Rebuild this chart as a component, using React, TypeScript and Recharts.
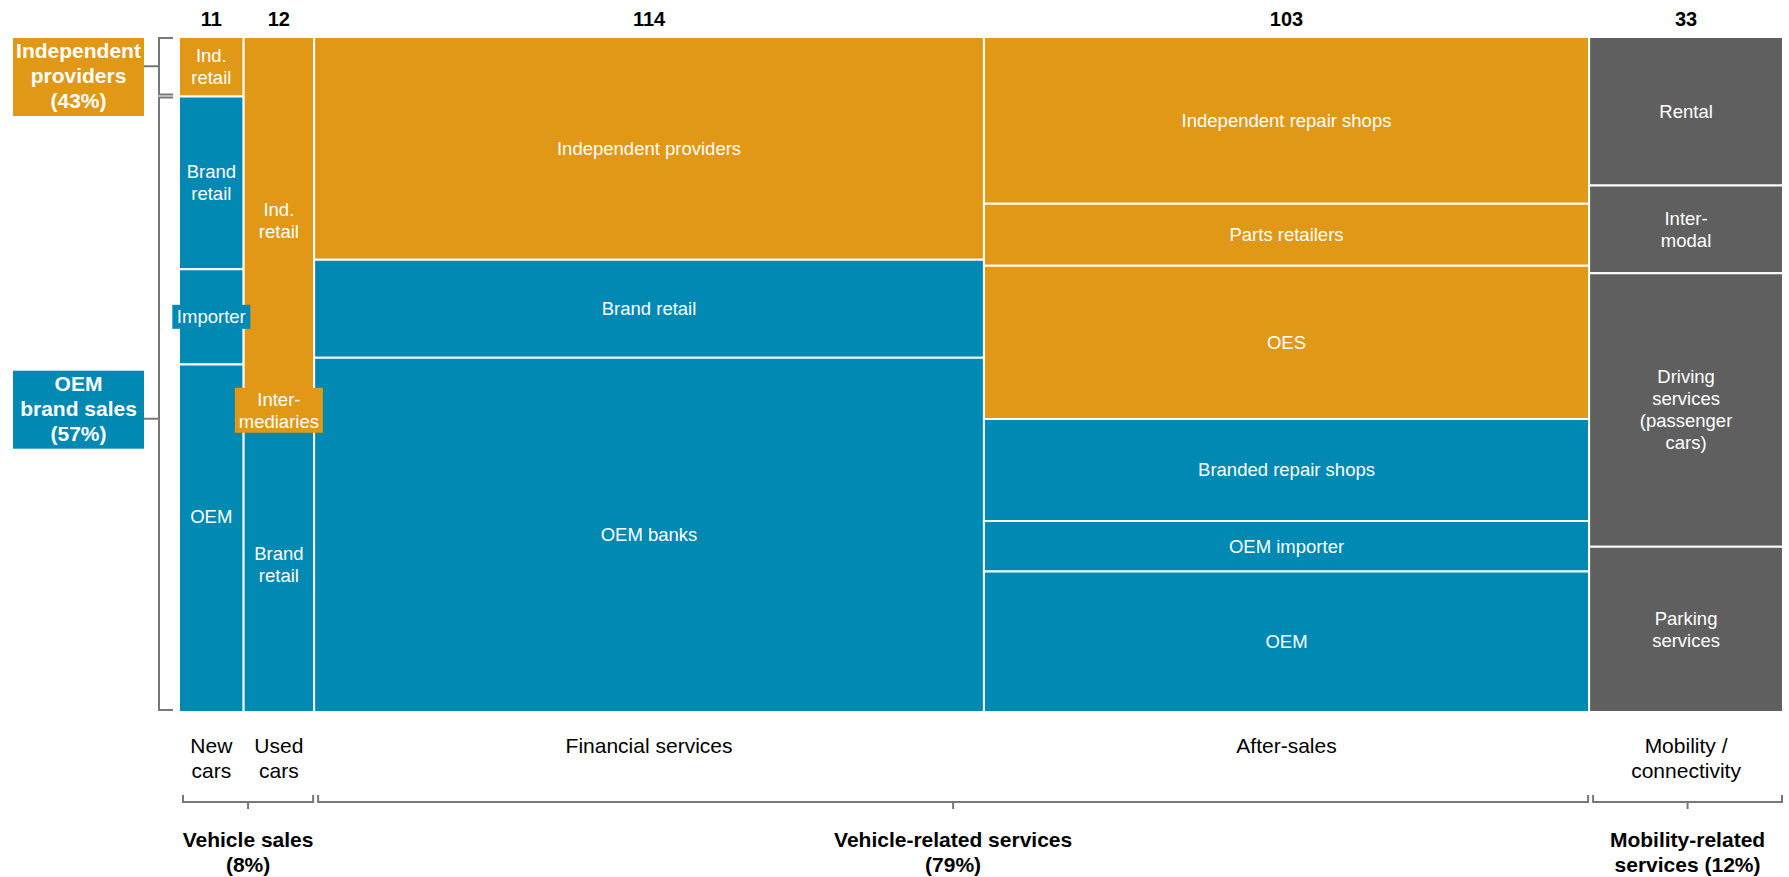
import { ComposedChart, XAxis, YAxis, ReferenceArea } from "recharts";

// market size per column (bn EUR), top to bottom split in % of the column
const columnNames = ["New cars", "Used cars", "Financial services", "After-sales", "Mobility / connectivity"];
const columnTotals = [11, 12, 114, 103, 33];
const columnTickLines = [["New", "cars"], ["Used", "cars"], ["Financial services"], ["After-sales"], ["Mobility /", "connectivity"]];

type Owner = "ind" | "oem" | "mob";
interface Segment {
  lines: string[];
  share: number;
  owner: Owner;
}

const newCarsSegments: Segment[] = [
  { lines: ["Ind.", "retail"], share: 8.8, owner: "ind" },
  { lines: ["Brand", "retail"], share: 25.6, owner: "oem" },
  { lines: ["Importer"], share: 14.1, owner: "oem" },
  { lines: ["OEM"], share: 51.5, owner: "oem" },
];
const usedCarsSegments: Segment[] = [
  { lines: ["Ind.", "retail"], share: 54.3, owner: "ind" },
  { lines: ["Inter-", "mediaries"], share: 2, owner: "ind" },
  { lines: ["Brand", "retail"], share: 43.7, owner: "oem" },
];
const financialSegments: Segment[] = [
  { lines: ["Independent providers"], share: 33, owner: "ind" },
  { lines: ["Brand retail"], share: 14.5, owner: "oem" },
  { lines: ["OEM banks"], share: 52.5, owner: "oem" },
];
const afterSalesSegments: Segment[] = [
  { lines: ["Independent repair shops"], share: 24.7, owner: "ind" },
  { lines: ["Parts retailers"], share: 9.2, owner: "ind" },
  { lines: ["OES"], share: 22.7, owner: "ind" },
  { lines: ["Branded repair shops"], share: 15.1, owner: "oem" },
  { lines: ["OEM importer"], share: 7.5, owner: "oem" },
  { lines: ["OEM"], share: 20.8, owner: "oem" },
];
const mobilitySegments: Segment[] = [
  { lines: ["Rental"], share: 22, owner: "mob" },
  { lines: ["Inter-", "modal"], share: 13, owner: "mob" },
  { lines: ["Driving", "services", "(passenger", "cars)"], share: 40.5, owner: "mob" },
  { lines: ["Parking", "services"], share: 24.5, owner: "mob" },
];
const segmentsByColumn = [newCarsSegments, usedCarsSegments, financialSegments, afterSalesSegments, mobilitySegments];

// bottom groups: label lines and first/last column index
const groupLines = [["Vehicle sales", "(8%)"], ["Vehicle-related services", "(79%)"], ["Mobility-related", "services (12%)"]];
const groupColumns = [[0, 1], [2, 3], [4, 4]];

// left brackets over the "New cars" column: label lines, owner, first/last segment index
const sideLines = [["Independent", "providers", "(43%)"], ["OEM", "brand sales", "(57%)"]];
const sideOwners: Owner[] = ["ind", "oem"];
const sideSegments = [[0, 0], [1, 3]];

const COLORS: Record<Owner, string> = { ind: "#E19816", oem: "#0089B3", mob: "#5F5F5F" };
const FONT = '"Liberation Sans", Arial, Helvetica, sans-serif';
const BRACKET = "#777777";
// labels drawn on a coloured box because they overflow their cell
const boxedLabels: Record<string, { w: number; h: number }> = {
  Importer: { w: 78, h: 24 },
  "Inter-mediaries": { w: 88, h: 45 },
};
const labelShift: Record<string, number> = { "0-3": -22 };
// connector / box offsets of the left brackets (px from bracket middle)
const sideConnectorShift = [0, 15];
const sideBoxShift = [0, 6];

const TOTAL = columnTotals.reduce((a, b) => a + b, 0);
const columnStarts = columnTotals.map((_, i) => columnTotals.slice(0, i).reduce((a, b) => a + b, 0));
const columnCenters = columnTotals.map((t, i) => columnStarts[i] + t / 2);

interface Cell {
  key: string;
  x1: number;
  x2: number;
  y1: number;
  y2: number;
  seg: Segment;
}

const cells: Cell[] = [];
segmentsByColumn.forEach((segs, ci) => {
  const sum = segs.reduce((a, s) => a + s.share, 0);
  let top = 100;
  segs.forEach((seg, si) => {
    const h = (seg.share / sum) * 100;
    cells.push({
      key: `${ci}-${si}`,
      x1: columnStarts[ci],
      x2: columnStarts[ci] + columnTotals[ci],
      y1: top - h,
      y2: top,
      seg,
    });
    top -= h;
  });
});

const chartData = columnNames.map((name, i) => ({ name, x: columnCenters[i], y: 100, total: columnTotals[i] }));

function CellLabel({ viewBox, cell }: any) {
  const { x, y, width, height } = viewBox;
  const cx = x + width / 2;
  const cy = y + height / 2 + (labelShift[cell.key] ?? 0);
  const lh = 22;
  const lines: string[] = cell.seg.lines;
  const start = cy - ((lines.length - 1) * lh) / 2;
  const box = boxedLabels[lines.join("")];
  return (
    <g>
      {box && (
        <rect x={cx - box.w / 2} y={cy - box.h / 2} width={box.w} height={box.h} fill={COLORS[cell.seg.owner as Owner]} />
      )}
      <text textAnchor="middle" fontSize={18.5} fill="#fff" fontFamily={FONT}>
        {lines.map((l, i) => (
          <tspan key={i} x={cx} y={start + i * lh} dy="0.35em">
            {l}
          </tspan>
        ))}
      </text>
    </g>
  );
}

function SideBracket({ viewBox, index }: any) {
  const { x, y, height } = viewBox;
  const bx = x - 20;
  const top = y + 1;
  const bottom = y + height - 2;
  const mid = (top + bottom) / 2;
  const conn = mid + sideConnectorShift[index];
  const boxW = 131;
  const boxH = 78;
  const boxRight = x - 35;
  const boxTop = Math.max(y + 1, mid + sideBoxShift[index] - boxH / 2);
  const lines = sideLines[index];
  return (
    <g>
      <path
        d={`M${x - 6},${top} H${bx} V${bottom} H${x - 6} M${bx},${conn} H${boxRight}`}
        stroke={BRACKET}
        strokeWidth={2}
        fill="none"
      />
      <rect x={boxRight - boxW} y={boxTop} width={boxW} height={boxH} fill={COLORS[sideOwners[index]]} />
      <text textAnchor="middle" fontSize={21} fontWeight="bold" fill="#fff" fontFamily={FONT}>
        {lines.map((l, i) => (
          <tspan key={i} x={boxRight - boxW / 2} y={boxTop + 20 + i * 25}>
            {l}
          </tspan>
        ))}
      </text>
    </g>
  );
}

function GroupBracket({ viewBox, index }: any) {
  const { x, y, width, height } = viewBox;
  const base = y + height;
  const by = base + 90;
  const left = x + 4;
  const right = x + width - 1;
  const cx = (left + right) / 2;
  return (
    <g>
      <path
        d={`M${left},${by - 7} V${by} H${right} V${by - 7} M${cx},${by} V${by + 7}`}
        stroke={BRACKET}
        strokeWidth={2}
        fill="none"
      />
      <text textAnchor="middle" fontSize={21} fontWeight="bold" fill="#000" fontFamily={FONT}>
        {groupLines[index].map((l, i) => (
          <tspan key={i} x={cx} y={base + 135 + i * 25}>
            {l}
          </tspan>
        ))}
      </text>
    </g>
  );
}

function TopTick({ x, y, index }: any) {
  return (
    <text x={x} y={y - 11} textAnchor="middle" fontSize={20} fontWeight="bold" fill="#000" fontFamily={FONT}>
      {columnTotals[index]}
    </text>
  );
}

function BottomTick({ x, y, index }: any) {
  return (
    <text textAnchor="middle" fontSize={21} fill="#000" fontFamily={FONT}>
      {columnTickLines[index].map((l, i) => (
        <tspan key={i} x={x} y={y + 41 + i * 25}>
          {l}
        </tspan>
      ))}
    </text>
  );
}

export default function App() {
  return (
    <div style={{ position: "absolute", left: 0, top: 0, width: 1789, height: 877, background: "#fff" }}>
      <ComposedChart
        width={1789}
        height={877}
        data={chartData}
        margin={{ top: 7, right: 6, left: 179, bottom: 125 }}
      >
        <XAxis
          xAxisId="top"
          orientation="top"
          type="number"
          dataKey="x"
          domain={[0, TOTAL]}
          allowDataOverflow
          ticks={columnCenters}
          interval={0}
          height={30}
          axisLine={false}
          tickLine={false}
          tickSize={0}
          tickMargin={0}
          tick={<TopTick />}
        />
        <XAxis
          xAxisId="bottom"
          orientation="bottom"
          type="number"
          dataKey="x"
          domain={[0, TOTAL]}
          allowDataOverflow
          ticks={columnCenters}
          interval={0}
          height={40}
          axisLine={false}
          tickLine={false}
          tickSize={0}
          tickMargin={0}
          tick={<BottomTick />}
        />
        <YAxis yAxisId="y" type="number" dataKey="y" domain={[0, 100]} allowDataOverflow hide />

        {cells.map((c) => (
          <ReferenceArea
            key={`cell-${c.key}`}
            xAxisId="bottom"
            yAxisId="y"
            x1={c.x1}
            x2={c.x2}
            y1={c.y1}
            y2={c.y2}
            ifOverflow="visible"
            fill={COLORS[c.seg.owner]}
            fillOpacity={1}
            stroke="#fff"
            strokeWidth={2}
          />
        ))}

        {cells.map((c) => (
          <ReferenceArea
            key={`label-${c.key}`}
            xAxisId="bottom"
            yAxisId="y"
            x1={c.x1}
            x2={c.x2}
            y1={c.y1}
            y2={c.y2}
            ifOverflow="visible"
            fill="none"
            stroke="none"
            label={(p: any) => <CellLabel viewBox={p.viewBox} cell={c} />}
          />
        ))}

        {sideSegments.map(([a, b], i) => (
          <ReferenceArea
            key={`side-${i}`}
            xAxisId="bottom"
            yAxisId="y"
            x1={cells[a].x1}
            x2={cells[a].x2}
            y1={cells[b].y1}
            y2={cells[a].y2}
            ifOverflow="visible"
            fill="none"
            stroke="none"
            label={(p: any) => <SideBracket viewBox={p.viewBox} index={i} />}
          />
        ))}

        {groupColumns.map(([a, b], i) => (
          <ReferenceArea
            key={`group-${i}`}
            xAxisId="bottom"
            yAxisId="y"
            x1={columnStarts[a]}
            x2={columnStarts[b] + columnTotals[b]}
            y1={0}
            y2={100}
            ifOverflow="visible"
            fill="none"
            stroke="none"
            label={(p: any) => <GroupBracket viewBox={p.viewBox} index={i} />}
          />
        ))}
      </ComposedChart>
    </div>
  );
}
